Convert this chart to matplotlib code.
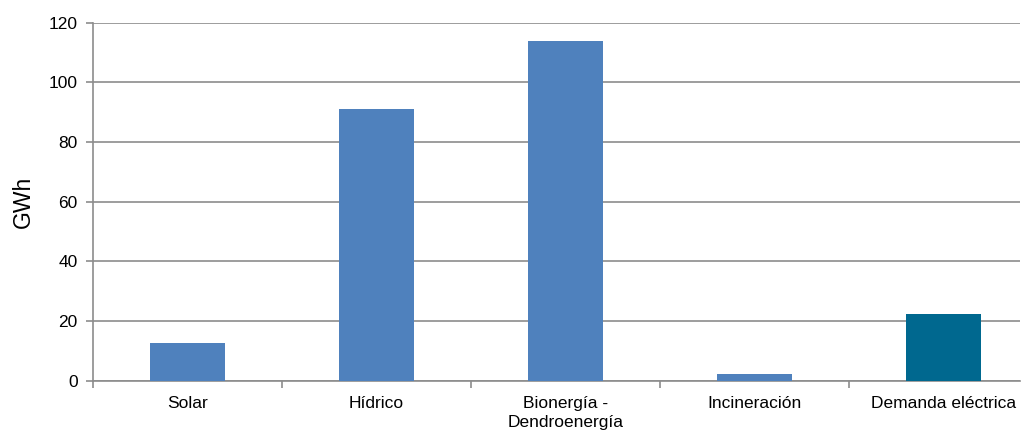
import numpy as np
from matplotlib import pyplot as plt

plt.rcParams['font.family'] = ['Liberation Sans', 'DejaVu Sans']

categorias = ['Solar', 'Hídrico', 'Bionergía -\nDendroenergía', 'Incineración', 'Demanda eléctrica']
gwh = [12.8, 91.2, 114.0, 2.1, 22.4]
colores = ['#4f81bd', '#4f81bd', '#4f81bd', '#4f81bd', '#00688f']

fig = plt.figure(figsize=(10.26, 4.34), dpi=100)
ax = fig.add_axes([0.0906, 0.1228, 0.9034, 0.8249])

x = np.arange(len(categorias))
ax.bar(x, gwh, width=0.40, color=colores, zorder=3)

# the last category is cut short on the right
ax.set_xlim(-0.5, len(categorias) - 0.595)
ax.set_ylim(0, 120)
ax.set_yticks(range(0, 121, 20))
ax.yaxis.grid(True, color='#8c8c8c', linewidth=1.2, zorder=0)

# ticks at the category boundaries, labels centred under each bar
ax.set_xticks(np.arange(-0.5, len(categorias) - 1, 1.0))
ax.set_xticklabels([])
ax.set_xticks(x, minor=True)
ax.set_xticklabels(categorias, minor=True, fontsize=12.5, linespacing=1.35)
ax.tick_params(axis='x', which='minor', length=0, pad=11)
ax.tick_params(axis='x', which='major', length=5, color='#8c8c8c', width=1.2)
ax.tick_params(axis='y', length=5, color='#8c8c8c', width=1.2, labelsize=12.5, pad=6)

for lado in ['top', 'right']:
    ax.spines[lado].set_visible(False)
for lado in ['left', 'bottom']:
    ax.spines[lado].set_color('#8c8c8c')
    ax.spines[lado].set_linewidth(1.2)

ax.set_ylabel('GWh', fontsize=16.5, labelpad=10)

fig.savefig('out.png', dpi=100)
